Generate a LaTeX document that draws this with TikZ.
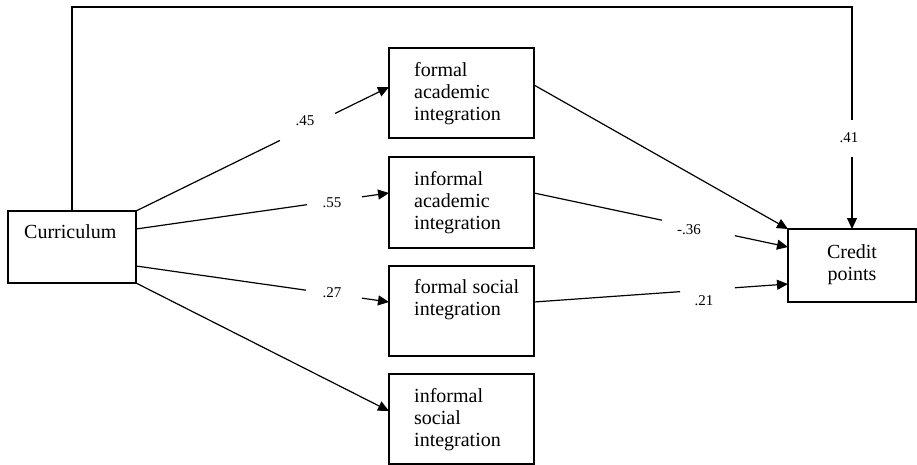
\documentclass[tikz,border=0pt]{standalone}
\usepackage{fontspec}
\setmainfont{Liberation Serif}
\usetikzlibrary{arrows.meta,calc}
\newcommand\mystrut{\rule{0pt}{16pt}}
\begin{document}
\begin{tikzpicture}[x=1pt,y=-1pt,
  box/.style={draw,line width=1.3pt,inner sep=0pt,outer sep=0pt,anchor=north west},
  txt/.style={inner sep=0pt,align=left,anchor=north west,font=\fontsize{20}{22}\selectfont},
  lab/.style={inner sep=0pt,anchor=base,font=\fontsize{15}{18}\selectfont},
  ln/.style={line width=1.2pt},
  arr/.style={line width=1.2pt,-{Triangle[length=11pt,width=10pt]}}]
\useasboundingbox (0,0) rectangle (917,465);

% boxes
\node[box,minimum width=128pt,minimum height=72pt] (cur) at (8,211) {};
\node[box,minimum width=145pt,minimum height=90pt] (fa) at (389,48) {};
\node[box,minimum width=145pt,minimum height=91pt] (ia) at (389,157) {};
\node[box,minimum width=145pt,minimum height=90pt] (fs) at (389,266) {};
\node[box,minimum width=145pt,minimum height=90pt] (is) at (389,374) {};
\node[box,minimum width=128pt,minimum height=73pt] (cp) at (788,229) {};

% texts
\node[txt] (cur-t) at (24,222) {\mystrut Curriculum};
\node[txt] (fa-t) at (414,60) {\mystrut formal\\academic\\integration};
\node[txt] (ia-t) at (414,169) {\mystrut informal\\academic\\integration};
\node[txt] (fs-t) at (414,277) {\mystrut formal social\\integration};
\node[txt] (is-t) at (414,386) {\mystrut informal\\social\\integration};
\node[txt,align=center,anchor=north] (cp-t) at (852,242) {\mystrut Credit\\points};

% labels
\node[lab] (l45) at (305,126) {.45};
\node[lab] (l55) at (332,207) {.55};
\node[lab] (l27) at (332,297) {.27};
\node[lab] (l41) at (849,143) {.41};
\node[lab] (l36) at (689,234) {-.36};
\node[lab] (l21) at (704,305) {.21};

% end points
\coordinate (a1) at (cur.north east);
\coordinate (b1) at ([yshift=6pt]fa.west);
\coordinate (a2) at ([yshift=18pt]cur.east);
\coordinate (b2) at ([yshift=9.5pt]ia.west);
\coordinate (a3) at ([yshift=-19pt]cur.east);
\coordinate (b3) at ([yshift=9pt]fs.west);
\coordinate (a4) at (cur.south east);
\coordinate (b4) at ([yshift=8pt]is.west);
\coordinate (a5) at ([yshift=8pt]fa.east);
\coordinate (b5) at (cp.north west);
\coordinate (a6) at ([yshift=9.5pt]ia.east);
\coordinate (b6) at ([yshift=18.5pt]cp.west);
\coordinate (a7) at ([yshift=9pt]fs.east);
\coordinate (b7) at ([yshift=-18.5pt]cp.west);
\coordinate (topy) at (0,7);
\coordinate (g8a) at (852,120);
\coordinate (g8b) at (852,157);

% connectors
\draw[ln] (a1) -- ($(a1)!0.569!(b1)$);
\draw[arr] ($(a1)!0.787!(b1)$) -- (b1);
\draw[ln] (a2) -- ($(a2)!0.676!(b2)$);
\draw[arr] ($(a2)!0.893!(b2)$) -- (b2);
\draw[ln] (a3) -- ($(a3)!0.672!(b3)$);
\draw[arr] ($(a3)!0.893!(b3)$) -- (b3);
\draw[arr] (a4) -- (b4);
\draw[arr] (a5) -- (b5);
\draw[ln] (a6) -- ($(a6)!0.504!(b6)$);
\draw[arr] ($(a6)!0.791!(b6)$) -- (b6);
\draw[ln] (a7) -- ($(a7)!0.575!(b7)$);
\draw[arr] ($(a7)!0.791!(b7)$) -- (b7);
\draw[ln] (cur.north) |- (cp.north |- topy) -- (g8a);
\draw[arr] (g8b) -- (cp.north);
\end{tikzpicture}
\end{document}
